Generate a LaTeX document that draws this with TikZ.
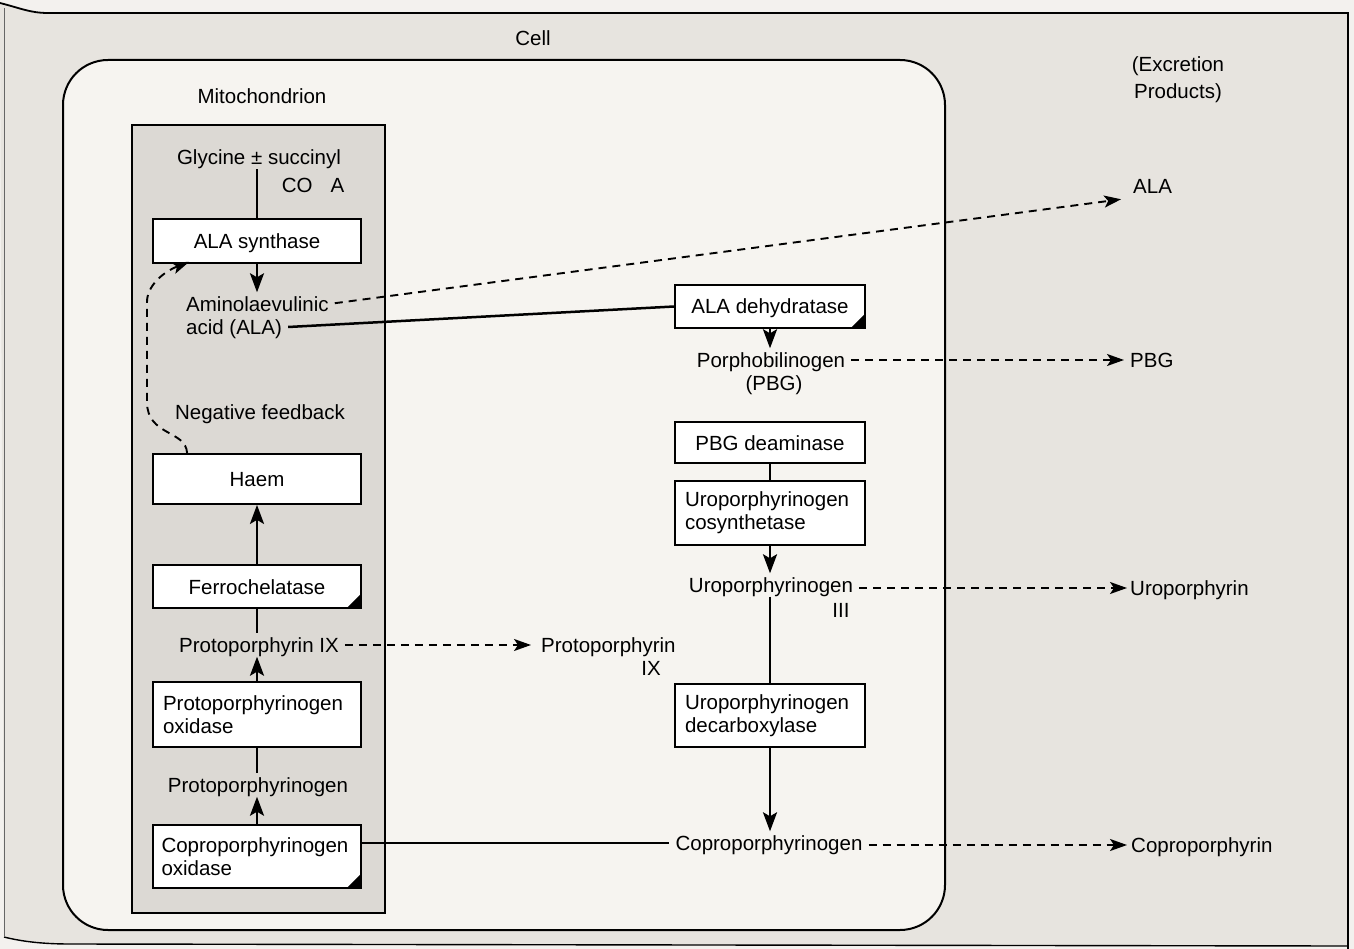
\documentclass[tikz,border=0pt]{standalone}
\usepackage{fontspec}
\setmainfont{Liberation Sans}
\usetikzlibrary{arrows.meta}
\definecolor{bgout}{HTML}{F3F1EE}
\definecolor{bgframe}{HTML}{E7E4DF}
\definecolor{cellfill}{HTML}{F6F4F0}
\definecolor{mitofill}{HTML}{DCD9D4}
\begin{document}
\begin{tikzpicture}[x=1pt,y=-1pt,
  font=\fontsize{20.5}{23}\selectfont,
  lbl/.style={inner xsep=6pt, inner ysep=4pt, text height=15pt, text depth=0pt},
  box/.style={draw, fill=white, line width=1.8pt, text height=15pt, text depth=0pt, inner sep=0pt},
  boxtwo/.style={draw, fill=white, line width=1.8pt, align=left, inner xsep=10pt, inner ysep=0pt},
  con/.style={line width=2.5pt},
  arr/.style={con, -{Stealth[length=19pt,width=14pt,inset=4pt]}},
  dsh/.style={line width=1.9pt, dash pattern=on 8pt off 6pt},
  darr/.style={dsh, -{Stealth[length=17pt,width=12pt,inset=4pt]}},
  corner/.style={fill=black}
]
\useasboundingbox (0,0) rectangle (1354,949);
% background and frame
\fill[bgout] (0,0) rectangle (1354,949);
\fill[bgframe] (0,3) .. controls (20,8) and (30,13) .. (48,13) -- (1348,13) -- (1348,946) -- (70,944) .. controls (40,944) and (20,941) .. (4,937) -- cycle;
\draw[line width=1.8pt] (0,3) .. controls (20,8) and (30,13) .. (48,13) -- (1348,13) -- (1348,949);
\draw[line width=1.4pt] (4,937) .. controls (20,941) and (40,944) .. (70,944) -- (1348,946);
\draw[line width=0.8pt, black!60] (4,8) -- (4,937);
% cell and mitochondrion
\draw[line width=2pt, fill=cellfill, rounded corners=45pt] (63,60) rectangle (945,930);
\draw[line width=1.8pt, fill=mitofill] (132,125) rectangle (385,913);

% labels
\node[lbl] (cell) at (533,38) {Cell};
\node[lbl] (mito) at (262,96) {Mitochondrion};
\node[lbl] (exc1) at (1178,64) {(Excretion};
\node[lbl] (exc2) at (1178,91) {Products)};

\node[lbl] (gly) at (259,157) {Glycine ± succinyl};
\node[lbl] (coa) at (313,185) {CO\hspace{18pt}A};
\node[box, minimum width=208, minimum height=44] (synth) at (257,241) {ALA synthase};
\node[lbl, anchor=west, inner xsep=0pt] (alaA) at (186,304) {Aminolaevulinic};
\node[lbl, anchor=west, inner xsep=0pt] (alaB) at (186,327) {acid (ALA)};
\node[lbl] (negf) at (260,412) {Negative feedback};
\node[box, minimum width=208, minimum height=50] (haem) at (257,479) {Haem};
\node[box, minimum width=208, minimum height=43] (ferro) at (257,586.5) {Ferrochelatase};
\node[lbl] (protoIX) at (259,645) {Protoporphyrin IX};
\node[boxtwo, text width=188, minimum width=208, minimum height=65] (ppo) at (257,714.5) {Protoporphyrinogen\\oxidase};
\node[lbl] (protogen) at (258,785) {Protoporphyrinogen};
\node[boxtwo, text width=191, inner xsep=8.5pt, minimum width=208, minimum height=63] (cpo) at (257,856.5) {Coproporphyrinogen\\oxidase};

\node[box, minimum width=190, minimum height=43] (dehyd) at (770,306.5) {ALA dehydratase};
\node[lbl] (pbg1) at (771,360) {Porphobilinogen};
\node[lbl] (pbg2) at (774,383) {(PBG)};
\node[box, minimum width=190, minimum height=41] (deam) at (770,442.5) {PBG deaminase};
\node[boxtwo, text width=170, minimum width=190, minimum height=64] (cosyn) at (770,513) {Uroporphyrinogen\\cosynthetase};
\node[lbl] (uro1) at (771,585) {Uroporphyrinogen};
\node[lbl] (uro3) at (841,610) {III};
\node[boxtwo, text width=170, minimum width=190, minimum height=63] (decarb) at (770,715.5) {Uroporphyrinogen\\decarboxylase};
\node[lbl] (copro) at (769,843) {Coproporphyrinogen};

\node[lbl, anchor=west, inner xsep=0pt] (pp1) at (541,645) {Protoporphyrin};
\node[lbl] (pp2) at (651,668) {IX};

\node[lbl, anchor=west, inner xsep=0pt] (alaX) at (1133,186) {ALA};
\node[lbl, anchor=west, inner xsep=0pt] (pbgX) at (1130,360) {PBG};
\node[lbl, anchor=west, inner xsep=0pt] (uroX) at (1130,588) {Uroporphyrin};
\node[lbl, anchor=west, inner xsep=0pt] (coproX) at (1131,845) {Coproporphyrin};

% corner marks
\foreach \b in {ferro,cpo,dehyd}{
  \fill[corner] ([shift={(-1,-1)}]\b.south east) -- ++(-14,0) -- ++(14,-14) -- cycle;
}

% mitochondrial pathway
\draw[con] (synth.north) -- (synth.north |- gly.south);
\draw[arr] (synth.south) -- (synth.south |- alaA.north);
\draw[dsh, -{Stealth[length=17pt,width=12pt,inset=4pt]}] ([xshift=35]haem.north west) .. controls (186,430) and (147,436) .. (147,402) -- (147,302) .. controls (147,286) and (163,272) .. ([xshift=37,yshift=2]synth.south west);
\draw[arr] (ferro.north) -- (haem.south);
\draw[con] (ferro.south) -- (ferro.south |- protoIX.north);
\draw[arr] (ppo.north) -- (ppo.north |- protoIX.south);
\draw[con] (ppo.south) -- (ppo.south |- protogen.north);
\draw[arr] (cpo.north) -- (cpo.north |- protogen.south);

% cross connections
\draw[con] (alaB.east) ++(6,0) -- (dehyd.west);
\draw[darr, shorten <=6pt, shorten >=12pt] (alaA.east) -- (alaX.south west);
\draw[darr, shorten >=10pt] (protoIX.east) -- (pp1.west);
\draw[con] (cpo.east |- copro.west) -- (copro.west);

% cytosolic pathway
\draw[arr] (dehyd.south) -- (dehyd.south |- pbg1.north);
\draw[con] (deam.south) -- (cosyn.north);
\draw[arr] (cosyn.south) -- (cosyn.south |- uro1.north);
\draw[con] (uro1.south -| decarb.north) -- (decarb.north);
\draw[arr] (decarb.south) -- (decarb.south |- copro.north);

% excretion
\draw[darr, shorten >=6pt] (pbg1.east) -- (pbgX.west);
\draw[darr, shorten >=3pt] (uro1.east |- uroX.west) -- (uroX.west);
\draw[darr, shorten >=4pt] (copro.east |- coproX.west) -- (coproX.west);
\end{tikzpicture}
\end{document}
